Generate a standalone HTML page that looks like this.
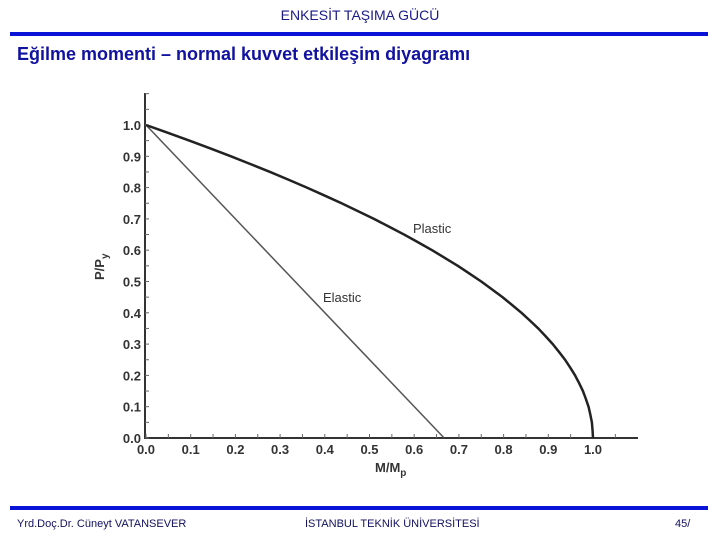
<!DOCTYPE html>
<html><head><meta charset="utf-8"><style>
html,body{margin:0;padding:0;background:#fff;width:720px;height:540px;overflow:hidden;font-family:"Liberation Sans",sans-serif}
.t{position:absolute;color:#1a1a8a}
</style></head><body>
<div class="t" style="left:0;width:720px;top:7px;text-align:center;font-size:14px">ENKESİT TAŞIMA GÜCÜ</div>
<div style="position:absolute;left:10px;top:32px;width:698px;height:4px;background:#0a14d8"></div>
<div class="t" style="left:17px;top:44px;font-size:18px;font-weight:bold;color:#1212a0">Eğilme momenti – normal kuvvet etkileşim diyagramı</div>
<div style="position:absolute;left:10px;top:506px;width:698px;height:4px;background:#0a14d8"></div>
<div class="t" style="left:17px;top:518px;font-size:11px;color:#101060">Yrd.Doç.Dr. Cüneyt VATANSEVER</div>
<div class="t" style="left:305px;top:518px;font-size:11px;color:#101060">İSTANBUL TEKNİK ÜNİVERSİTESİ</div>
<div class="t" style="left:675px;top:518px;font-size:11px;color:#101060">45/</div>
<svg id="chart" width="720" height="540" style="position:absolute;left:0;top:0" xmlns="http://www.w3.org/2000/svg"></svg>
<script>
const xTicks=[0,0.1,0.2,0.3,0.4,0.5,0.6,0.7,0.8,0.9,1.0];
const yTicks=[0,0.1,0.2,0.3,0.4,0.5,0.6,0.7,0.8,0.9,1.0];
const plasticP=[1.0,0.975,0.95,0.925,0.9,0.875,0.85,0.825,0.8,0.775,0.75,0.725,0.7,0.675,0.65,0.625,0.6,0.575,0.55,0.525,0.5,0.475,0.45,0.425,0.4,0.375,0.35,0.325,0.3,0.275,0.25,0.225,0.2,0.175,0.15,0.125,0.1,0.075,0.05,0.025,0.0];
const plasticM=[0.0,0.049,0.0975,0.144,0.19,0.234,0.2775,0.319,0.36,0.399,0.4375,0.474,0.51,0.544,0.5775,0.609,0.64,0.669,0.6975,0.724,0.75,0.774,0.7975,0.819,0.84,0.859,0.8775,0.894,0.91,0.924,0.9375,0.949,0.96,0.969,0.9775,0.984,0.99,0.994,0.9975,0.999,1.0];
const elasticM=[0,0.667];
const elasticP=[1.0,0.0];
const X=v=>146+v*447, Y=v=>438-v*313;
const svg=document.getElementById('chart'),NS='http://www.w3.org/2000/svg';
function mk(t,a,txt){const e=document.createElementNS(NS,t);for(const k in a)e.setAttribute(k,a[k]);if(txt!==undefined)e.textContent=txt;svg.appendChild(e);return e;}
let e;
e=mk('line',{x1:145,y1:93,x2:145,y2:439,stroke:'#333','stroke-width':2});


e=mk('line',{x1:144,y1:438,x2:638,y2:438,stroke:'#333','stroke-width':2});


for(let i=0;i<=21;i++){const v=i*0.05;
 e=mk('line',{x1:X(v),y1:438,x2:X(v),y2:434,stroke:'#666','stroke-width':1});
 
 
}
for(let i=0;i<=22;i++){const v=i*0.05;
 e=mk('line',{x1:145,y1:Y(v),x2:149,y2:Y(v),stroke:'#666','stroke-width':1});
 
 
}
xTicks.forEach(v=>{e=mk('text',{x:X(v),y:454,'text-anchor':'middle','font-size':13,fill:'#333','font-weight':'bold'},v.toFixed(1));
 
 });
yTicks.forEach(v=>{e=mk('text',{x:141,y:Y(v)+5,'text-anchor':'end','font-size':13,fill:'#333','font-weight':'bold'},v.toFixed(1));
 
 });
e=mk('text',{x:375,y:472,'font-size':13,fill:'#333','font-weight':'bold'});
e.innerHTML='M/M<tspan font-size="10" dy="4">p</tspan>';


e=mk('text',{x:0,y:0,'font-size':13,fill:'#333','font-weight':'bold',transform:'translate(104,280) rotate(-90)'});
e.innerHTML='P/P<tspan font-size="10" dy="4">y</tspan>';


e=mk('polyline',{points:elasticM.map((m,i)=>X(m)+','+Y(elasticP[i])).join(' '),fill:'none',stroke:'#555','stroke-width':1.5});


let d='';plasticM.forEach((m,i)=>{d+=(i?'L':'M')+X(m)+','+Y(plasticP[i]);});
e=mk('path',{d:d,fill:'none',stroke:'#222','stroke-width':2.5,'stroke-linejoin':'round'});


e=mk('text',{x:413,y:233,'font-size':13,fill:'#333'},'Plastic');


e=mk('text',{x:323,y:302,'font-size':13,fill:'#333'},'Elastic');


</script>
</body></html>
